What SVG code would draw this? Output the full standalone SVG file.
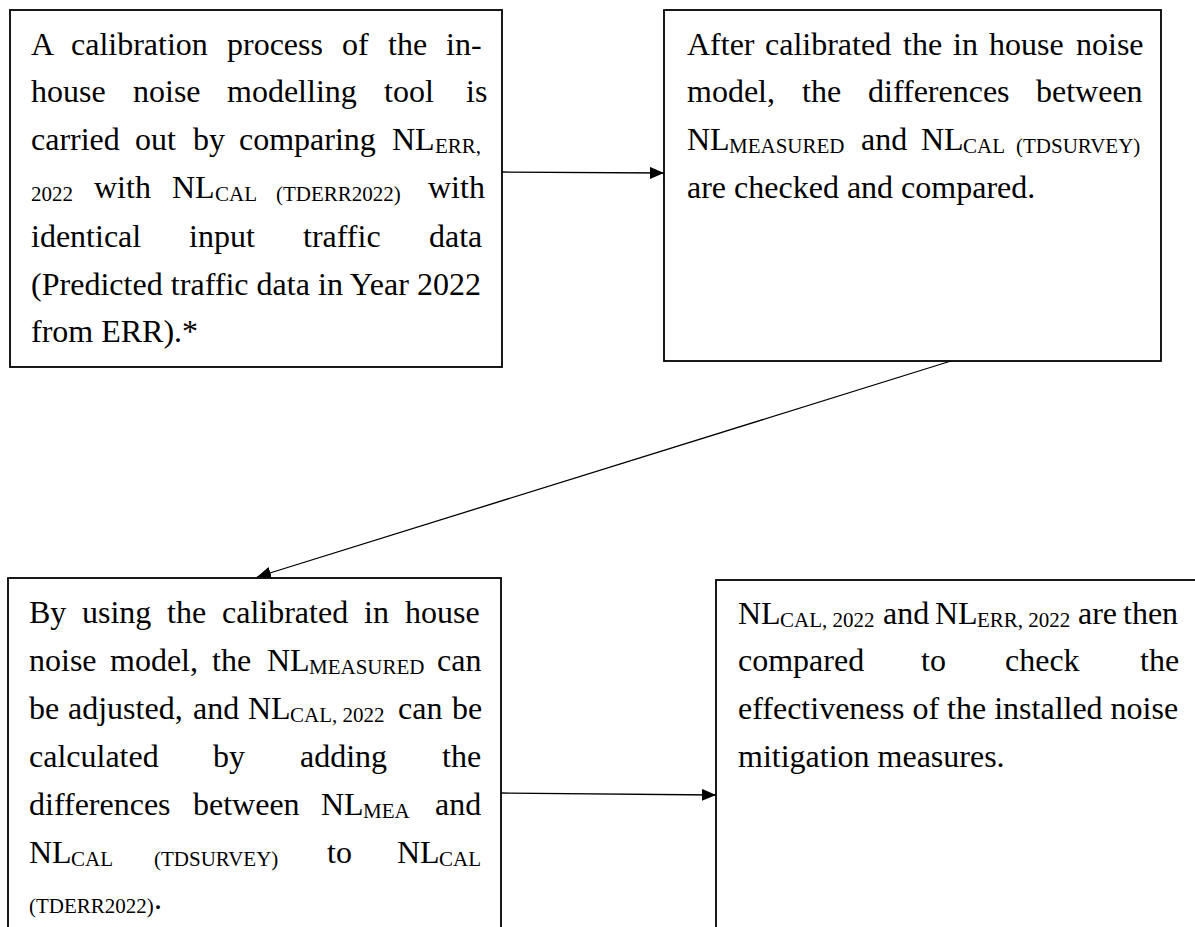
<svg xmlns="http://www.w3.org/2000/svg" width="1195" height="927" viewBox="0 0 1195 927">
<style>
.box{fill:#fff;stroke:#000;stroke-width:1.8}
.t{font-family:"Liberation Serif","Times New Roman",serif;font-size:32px;fill:#000}
.s{font-size:21px}
.c{stroke:#000;stroke-width:1.3;fill:none}
</style>
<defs>
<marker id="ah" markerUnits="userSpaceOnUse" markerWidth="15" markerHeight="12" refX="14" refY="6" orient="auto">
<path d="M0,0 L14,6 L0,12 z" fill="#000"/>
</marker>
</defs>
<rect width="1195" height="927" fill="#fff"/>
<g id="node1">
<rect class="box" x="10" y="10" width="492" height="357"/>
<text class="t"><tspan x="31" y="55">A</tspan><tspan x="71" y="55">calibration</tspan><tspan x="227" y="55">process</tspan><tspan x="342" y="55">of</tspan><tspan x="388" y="55">the</tspan><tspan x="446" y="55">in-</tspan></text>
<text class="t"><tspan x="31" y="102">house</tspan><tspan x="133" y="102">noise</tspan><tspan x="227" y="102">modelling</tspan><tspan x="384" y="102">tool</tspan><tspan x="466" y="102">is</tspan></text>
<text class="t"><tspan x="31" y="150">carried</tspan><tspan x="135" y="150">out</tspan><tspan x="193" y="150">by</tspan><tspan x="239" y="150">comparing</tspan><tspan x="392" y="150">NL</tspan><tspan class="s" x="435" y="153">ERR,</tspan></text>
<text class="t"><tspan class="s" x="31" y="201">2022</tspan><tspan x="94" y="198">with</tspan><tspan x="172" y="198">NL</tspan><tspan class="s" x="215" y="201">CAL</tspan><tspan class="s" x="276" y="201">(TDERR2022)</tspan><tspan x="428" y="198">with</tspan></text>
<text class="t"><tspan x="31" y="247">identical</tspan><tspan x="189" y="247">input</tspan><tspan x="303" y="247">traffic</tspan><tspan x="429" y="247">data</tspan></text>
<text class="t" x="31" y="295" textLength="450" lengthAdjust="spacing">(Predicted traffic data in Year 2022</text>
<text class="t" x="31" y="342">from ERR).*</text>
</g>
<g id="node2">
<rect class="box" x="664" y="10" width="497" height="351"/>
<text class="t"><tspan x="687" y="55">After</tspan><tspan x="765" y="55">calibrated</tspan><tspan x="903" y="55">the</tspan><tspan x="953" y="55">in</tspan><tspan x="989" y="55">house</tspan><tspan x="1076" y="55">noise</tspan></text>
<text class="t"><tspan x="687" y="102">model,</tspan><tspan x="802" y="102">the</tspan><tspan x="868" y="102">differences</tspan><tspan x="1036" y="102">between</tspan></text>
<text class="t"><tspan x="687" y="150">NL</tspan><tspan class="s" x="729" y="153">MEASURED</tspan><tspan x="861" y="150">and</tspan><tspan x="921" y="150">NL</tspan><tspan class="s" x="963" y="153">CAL</tspan><tspan class="s" x="1016" y="153">(TDSURVEY)</tspan></text>
<text class="t" x="687" y="198">are checked and compared.</text>
</g>
<g id="node3">
<rect class="box" x="8" y="578" width="493" height="370"/>
<text class="t"><tspan x="29" y="623">By</tspan><tspan x="82" y="623">using</tspan><tspan x="167" y="623">the</tspan><tspan x="222" y="623">calibrated</tspan><tspan x="364" y="623">in</tspan><tspan x="405" y="623">house</tspan></text>
<text class="t"><tspan x="29" y="671">noise</tspan><tspan x="110" y="671">model,</tspan><tspan x="212" y="671">the</tspan><tspan x="267" y="671">NL</tspan><tspan class="s" x="309" y="674">MEASURED</tspan><tspan x="437" y="671">can</tspan></text>
<text class="t"><tspan x="29" y="719">be</tspan><tspan x="68" y="719">adjusted,</tspan><tspan x="193" y="719">and</tspan><tspan x="248" y="719">NL</tspan><tspan class="s" x="290" y="722">CAL, 2022</tspan><tspan x="398" y="719">can</tspan><tspan x="452" y="719">be</tspan></text>
<text class="t"><tspan x="29" y="767">calculated</tspan><tspan x="213" y="767">by</tspan><tspan x="300" y="767">adding</tspan><tspan x="442" y="767">the</tspan></text>
<text class="t"><tspan x="29" y="815">differences</tspan><tspan x="193" y="815">between</tspan><tspan x="321" y="815">NL</tspan><tspan class="s" x="363" y="818">MEA</tspan><tspan x="435" y="815">and</tspan></text>
<text class="t"><tspan x="29" y="863">NL</tspan><tspan class="s" x="71" y="866">CAL</tspan><tspan class="s" x="154" y="866">(TDSURVEY)</tspan><tspan x="327" y="863">to</tspan><tspan x="397" y="863">NL</tspan><tspan class="s" x="439" y="866">CAL</tspan></text>
<text class="t"><tspan class="s" x="29" y="913">(TDERR2022)</tspan><tspan x="154" y="909">.</tspan></text>
</g>
<g id="node4">
<rect class="box" x="716" y="580" width="500" height="370"/>
<text class="t"><tspan x="738" y="624">NL</tspan><tspan class="s" x="780" y="627">CAL, 2022</tspan><tspan x="883" y="624">and</tspan><tspan x="935" y="624">NL</tspan><tspan class="s" x="977" y="627">ERR, 2022</tspan><tspan x="1078" y="624">are</tspan><tspan x="1123" y="624">then</tspan></text>
<text class="t"><tspan x="738" y="671">compared</tspan><tspan x="921" y="671">to</tspan><tspan x="1005" y="671">check</tspan><tspan x="1140" y="671">the</tspan></text>
<text class="t" x="738" y="719">effectiveness of the installed noise</text>
<text class="t" x="738" y="767">mitigation measures.</text>
</g>
<g id="connectors">
<line class="c" x1="502" y1="172" x2="664" y2="173" marker-end="url(#ah)"/>
<line class="c" x1="951" y1="361" x2="257" y2="577" marker-end="url(#ah)"/>
<line class="c" x1="501" y1="793" x2="716" y2="795" marker-end="url(#ah)"/>
</g>
</svg>
